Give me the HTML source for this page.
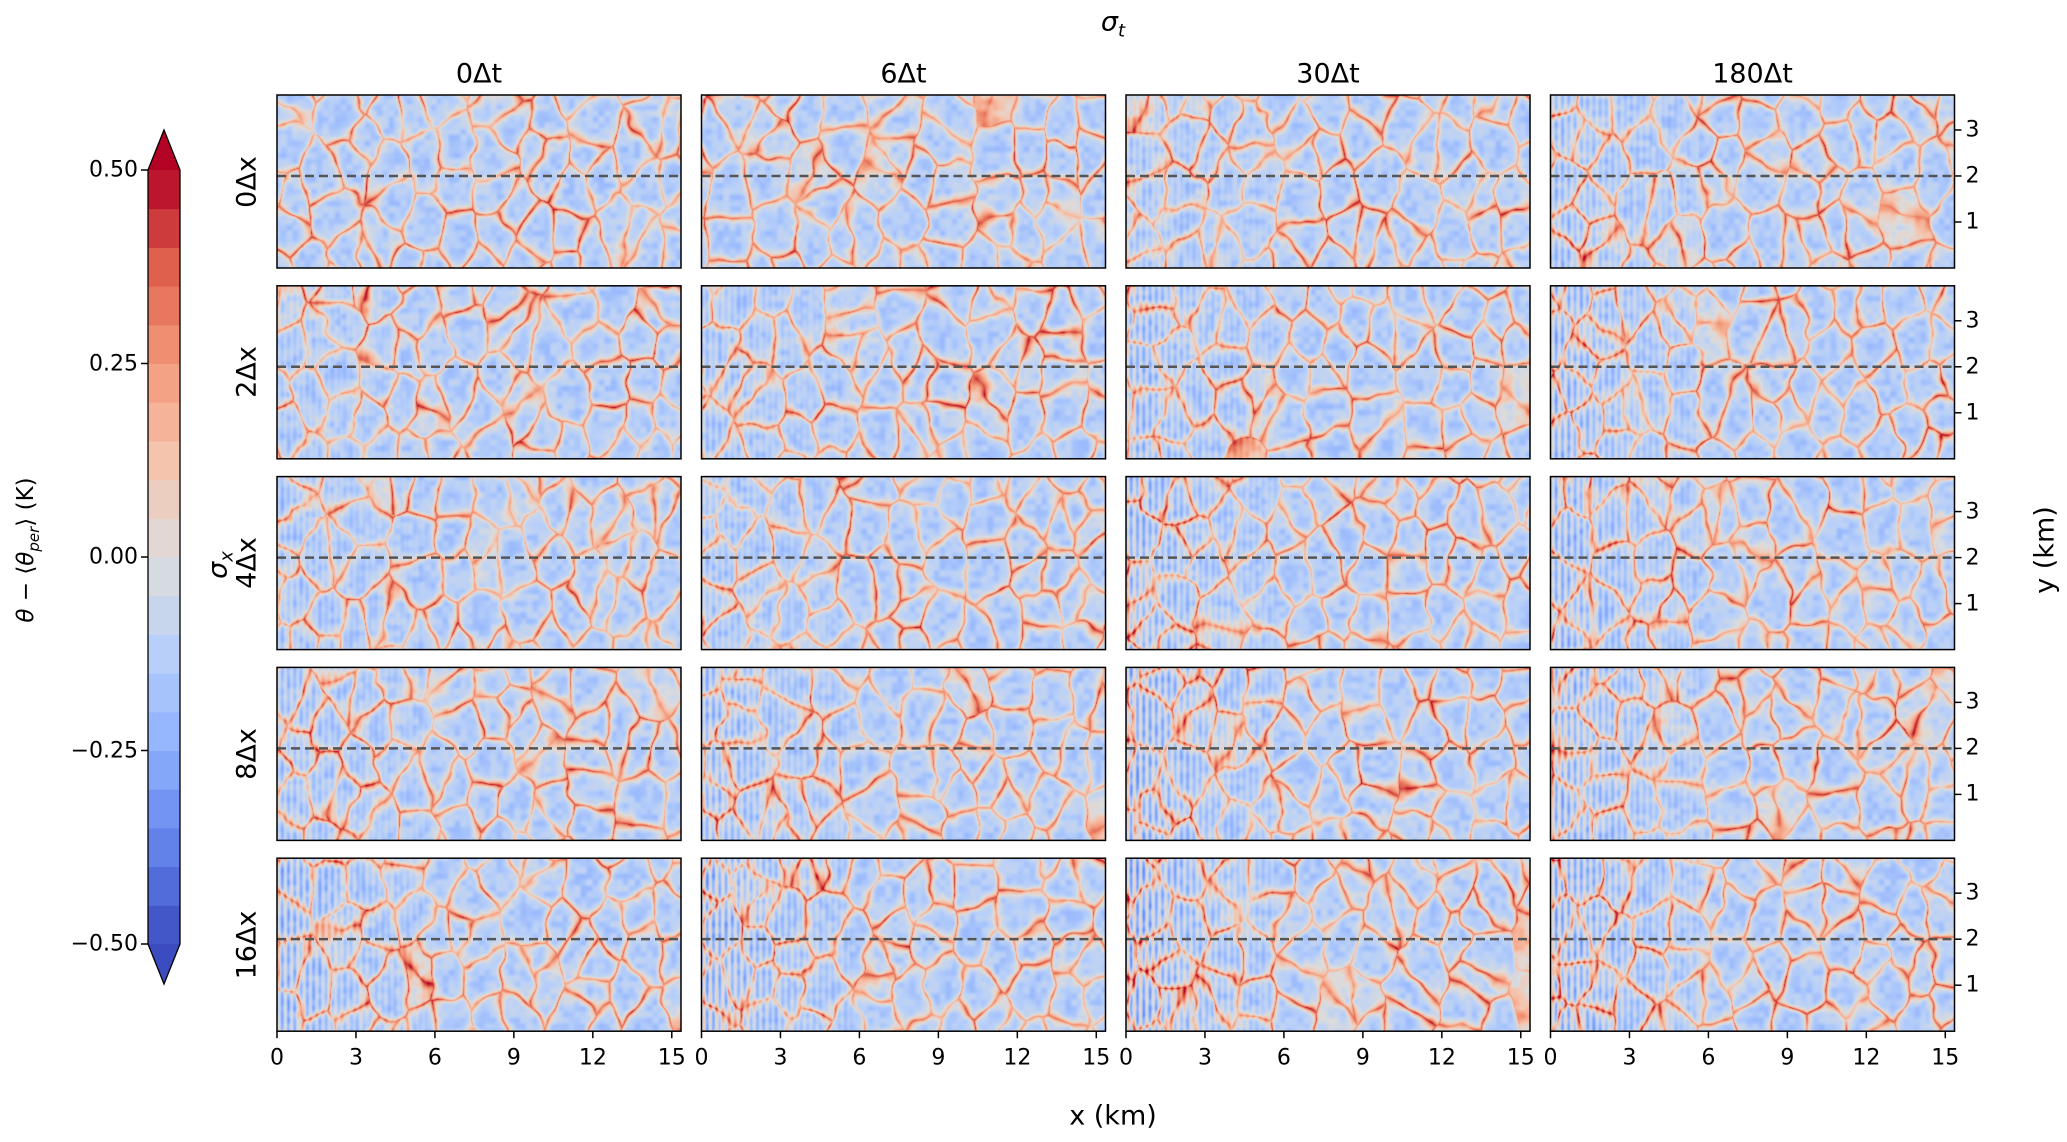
<!DOCTYPE html>
<html><head><meta charset="utf-8">
<style>
html,body{margin:0;padding:0;background:#fff;}
#root{position:relative;width:2067px;height:1142px;overflow:hidden;font-family:"DejaVu Sans","Liberation Sans",sans-serif;color:#000;}
.t{position:absolute;white-space:nowrap;}
canvas{position:absolute;}
</style></head>
<body>
<div id="root">
<svg id="ov" width="2067" height="1142" style="position:absolute;left:0;top:0;z-index:2"></svg>
</div>
<script>
// ---- data ----
const colTitles=["0Δt","6Δt","30Δt","180Δt"];
const rowTitles=["0Δx","2Δx","4Δx","8Δx","16Δx"];
const xTicks=[0,3,6,9,12,15];
const yTicks=[1,2,3];
const cbTicks=[0.5,0.25,0,-0.25,-0.5];
const cbTickLabels=["0.50","0.25","0.00","\u22120.25","\u22120.50"];
const cbLevels=[-0.5,-0.45,-0.4,-0.35,-0.3,-0.25,-0.2,-0.15,-0.1,-0.05,0,0.05,0.1,0.15,0.2,0.25,0.3,0.35,0.4,0.45,0.5];
const dashY=[2];
const stripeStrength=[[0,0,0.3,0.5],[0.2,0.3,0.6,0.7],[0.3,0.3,0.7,0.7],[0.4,0.6,0.9,0.8],[0.7,0.9,1,0.9]];
// ---- layout ----
const PX=277,PY=95,PW=404,PH=173,DX=424.5,DY=190.8,XMAX=15.35,YMAX=3.76;
const root=document.getElementById('root'),ov=document.getElementById('ov');
const NS="http://www.w3.org/2000/svg";
function sx(c,v){return PX+c*DX+v/XMAX*PW;}
function sy(r,v){return PY+r*DY+PH-v/YMAX*PH;}
function cw(v){
  const s=[[-0.5,59,76,192],[-0.375,98,130,234],[-0.25,141,176,254],[-0.125,184,208,249],[0,221,220,219],[0.125,245,196,173],[0.25,244,154,123],[0.375,222,96,77],[0.5,180,4,38]];
  if(v<=-0.5)return s[0].slice(1);if(v>=0.5)return s[8].slice(1);
  for(let i=0;i<8;i++){if(v<=s[i+1][0]){const f=(v-s[i][0])/(s[i+1][0]-s[i][0]);return [0,1,2].map(k=>s[i][k+1]+f*(s[i+1][k+1]-s[i][k+1]));}}
}
function hash(a,b,c){let h=(a*374761393+b*668265263+c*2147483647)|0;h=(h^(h>>>13))*1274126177|0;return ((h^(h>>>16))>>>0)/4294967296;}
function vnoise(x,y,s){const xi=Math.floor(x),yi=Math.floor(y),fx=x-xi,fy=y-yi;const u=fx*fx*(3-2*fx),w=fy*fy*(3-2*fy);
  const a=hash(xi,yi,s),b=hash(xi+1,yi,s),c=hash(xi,yi+1,s),d=hash(xi+1,yi+1,s);return a+(b-a)*u+(c-a)*w+(a-b-c+d)*u*w;}
function el(tag,at,par){const e=document.createElementNS(NS,tag);for(const k in at)e.setAttribute(k,at[k]);(par||ov).appendChild(e);return e;}
function txt(s,x,y,size,anchor,extra){const d=document.createElement('div');d.className='t';d.textContent=s;d.style.fontSize=size+'px';d.style.left=x+'px';d.style.top=y+'px';d.style.transform=extra||'translate(-50%,-50%)';root.appendChild(d);return d;}
// ---- panels ----
for(let r=0;r<5;r++)for(let c=0;c<4;c++){
  const cv=document.createElement('canvas');cv.width=PW;cv.height=PH;
  cv.style.left=(PX+c*DX)+'px';cv.style.top=(PY+r*DY)+'px';
  
  
  root.appendChild(cv);
  const ctx=cv.getContext('2d'),img=ctx.createImageData(PW,PH),D=img.data;
  const G=38,seed=r*7+c*13+1,gw=Math.ceil(PW/G)+2,gh=Math.ceil(PH/G)+2;
  const pts=[];for(let j=-1;j<gh;j++)for(let i=-1;i<gw;i++)pts.push([i,j,(i+hash(i,j,seed))*G,(j+hash(j,i,seed+99))*G]);
  const ss=stripeStrength[r][c];
  for(let y=0;y<PH;y++)for(let x=0;x<PW;x++){
    const wx=x+8*(vnoise(x/16,y/16,seed+3)-0.5),wy=y+8*(vnoise(x/16,y/16,seed+4)-0.5);
    const gi=Math.floor(wx/G),gj=Math.floor(wy/G);let d1=1e9,d2=1e9;
    for(let j=gj-1;j<=gj+1;j++)for(let i=gi-1;i<=gi+1;i++){const p=pts[(j+1)*(gw+1)+(i+1)];if(!p)continue;const dx=wx-p[2],dy=(wy-p[3])*0.7;const d=Math.sqrt(dx*dx+dy*dy);if(d<d1){d2=d1;d1=d;}else if(d<d2)d2=d;}
    const e=d2-d1;
    const n=vnoise(x/6,y/6,seed+11)-0.5;
    let v=-0.15+0.14*n+0.66*Math.exp(-e/3.6)*(0.45+0.55*vnoise(x/30,y/30,seed+7));
    if(x<150&&ss>0){v+=ss*0.2*Math.sin(x*1.0)*Math.exp(-x/80);}
    const col=cw(v);const k=(y*PW+x)*4;D[k]=col[0];D[k+1]=col[1];D[k+2]=col[2];D[k+3]=255;
  }
  ctx.putImageData(img,0,0);
  dashY.forEach(v=>{const l=el('line',{x1:PX+c*DX,x2:PX+c*DX+PW,y1:sy(r,v),y2:sy(r,v),stroke:'#555','stroke-width':2.5,'stroke-dasharray':'9,5'});
    });
  const f=el('rect',{x:PX+c*DX,y:PY+r*DY,width:PW,height:PH,fill:'none',stroke:'#000','stroke-width':1.5});
  
  if(r===4){xTicks.forEach(t=>{const X=sx(c,t),Y=PY+4*DY+PH;el('line',{x1:X,x2:X,y1:Y,y2:Y+7,stroke:'#000','stroke-width':1.5});
    const d=txt(String(t),X,Y+27,22);});}
  if(c===3){yTicks.forEach(t=>{const Y=sy(r,t),X=PX+3*DX+PW;el('line',{x1:X,x2:X+7,y1:Y,y2:Y,stroke:'#000','stroke-width':1.5});
    const d=txt(String(t),X+11,Y,22,null,'translate(0,-50%)');});}
}
colTitles.forEach((s,c)=>{const d=txt(s,PX+c*DX+PW/2,74,27);});
rowTitles.forEach((s,r)=>{const d=txt(s,247,PY+r*DY+PH/2,27,null,'translate(-50%,-50%) rotate(-90deg)');});
let d;
d=txt('σ',1113,24,27);d.innerHTML='σ<sub style="font-size:18px">t</sub>';d.style.fontStyle='italic';
d=txt('σ',220,565,27,null,'translate(-50%,-50%) rotate(-90deg)');d.innerHTML='σ<sub style="font-size:18px">x</sub>';d.style.fontStyle='italic';
d=txt('x (km)',1113,1116,27);
d=txt('y (km)',2045,550,27,null,'translate(-50%,-50%) rotate(-90deg)');
d=txt('',28,550,23,null,'translate(-50%,-50%) rotate(-90deg)');d.innerHTML='<i>θ</i> − ⟨<i>θ</i><sub style="font-size:15px"><i>per</i></sub>⟩ (K)';
// ---- colorbar ----
const CBX=148,CBW=32,CB0=557,CBS=774;
function cby(v){return CB0-v*CBS;}
for(let i=0;i<cbLevels.length-1;i++){const a=cbLevels[i],b=cbLevels[i+1],col=cw((a+b)/2);
  const rc=el('rect',{x:CBX,y:cby(b),width:CBW,height:cby(a)-cby(b)+0.5,fill:`rgb(${col.map(Math.round)})`});
  }
let tc=cw(0.55).map(Math.round),bc=cw(-0.55).map(Math.round);
el('polygon',{points:`${CBX},${cby(0.5)} ${CBX+CBW/2},${cby(0.5)-40} ${CBX+CBW},${cby(0.5)}`,fill:`rgb(${tc})`});
el('polygon',{points:`${CBX},${cby(-0.5)} ${CBX+CBW/2},${cby(-0.5)+40} ${CBX+CBW},${cby(-0.5)}`,fill:`rgb(${bc})`});
const ol=el('polygon',{points:`${CBX},${cby(0.5)} ${CBX+CBW/2},${cby(0.5)-40} ${CBX+CBW},${cby(0.5)} ${CBX+CBW},${cby(-0.5)} ${CBX+CBW/2},${cby(-0.5)+40} ${CBX},${cby(-0.5)}`,fill:'none',stroke:'#000','stroke-width':1.3});

cbTicks.forEach((t,i)=>{const Y=cby(t);el('line',{x1:CBX-7,x2:CBX,y1:Y,y2:Y,stroke:'#000','stroke-width':1.5});
  const q=txt(cbTickLabels[i],CBX-10,Y,22,null,'translate(-100%,-50%)');});
</script>
</body></html>
